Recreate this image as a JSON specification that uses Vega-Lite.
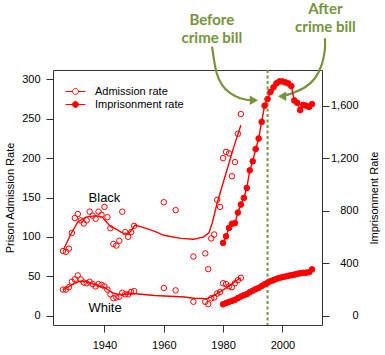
{
  "$schema": "https://vega.github.io/schema/vega-lite/v6.json",
  "width": 269,
  "height": 255,
  "autosize": {"type": "none"},
  "padding": {"left": 53, "top": 70, "right": 63, "bottom": 30},
  "background": "white",
  "config": {
    "view": {"stroke": "#333", "strokeWidth": 1},
    "font": "Liberation Sans",
    "axis": {
      "labelFont": "Liberation Sans", "labelFontSize": 11, "labelColor": "#000",
      "titleFont": "Liberation Sans", "titleFontSize": 11, "titleFontWeight": "normal", "titleColor": "#000",
      "tickColor": "#333", "tickSize": 7, "domain": false, "grid": false
    }
  },
  "datasets": {
    "adm": [
      {"year": 1926, "race": "Black", "series": "Admission rate", "rate": 82},
      {"year": 1927, "race": "Black", "series": "Admission rate", "rate": 81},
      {"year": 1928, "race": "Black", "series": "Admission rate", "rate": 85},
      {"year": 1929, "race": "Black", "series": "Admission rate", "rate": 105},
      {"year": 1930, "race": "Black", "series": "Admission rate", "rate": 124},
      {"year": 1931, "race": "Black", "series": "Admission rate", "rate": 129},
      {"year": 1932, "race": "Black", "series": "Admission rate", "rate": 121},
      {"year": 1933, "race": "Black", "series": "Admission rate", "rate": 117},
      {"year": 1934, "race": "Black", "series": "Admission rate", "rate": 121},
      {"year": 1935, "race": "Black", "series": "Admission rate", "rate": 132},
      {"year": 1936, "race": "Black", "series": "Admission rate", "rate": 127},
      {"year": 1937, "race": "Black", "series": "Admission rate", "rate": 123},
      {"year": 1938, "race": "Black", "series": "Admission rate", "rate": 132},
      {"year": 1939, "race": "Black", "series": "Admission rate", "rate": 128},
      {"year": 1940, "race": "Black", "series": "Admission rate", "rate": 138},
      {"year": 1941, "race": "Black", "series": "Admission rate", "rate": 125},
      {"year": 1942, "race": "Black", "series": "Admission rate", "rate": 111},
      {"year": 1943, "race": "Black", "series": "Admission rate", "rate": 91},
      {"year": 1944, "race": "Black", "series": "Admission rate", "rate": 89},
      {"year": 1945, "race": "Black", "series": "Admission rate", "rate": 95},
      {"year": 1946, "race": "Black", "series": "Admission rate", "rate": 132},
      {"year": 1947, "race": "Black", "series": "Admission rate", "rate": 106},
      {"year": 1948, "race": "Black", "series": "Admission rate", "rate": 100},
      {"year": 1949, "race": "Black", "series": "Admission rate", "rate": 106},
      {"year": 1950, "race": "Black", "series": "Admission rate", "rate": 114},
      {"year": 1960, "race": "Black", "series": "Admission rate", "rate": 144},
      {"year": 1964, "race": "Black", "series": "Admission rate", "rate": 134},
      {"year": 1970, "race": "Black", "series": "Admission rate", "rate": 75},
      {"year": 1974, "race": "Black", "series": "Admission rate", "rate": 79},
      {"year": 1975, "race": "Black", "series": "Admission rate", "rate": 59},
      {"year": 1976, "race": "Black", "series": "Admission rate", "rate": 98},
      {"year": 1977, "race": "Black", "series": "Admission rate", "rate": 103},
      {"year": 1978, "race": "Black", "series": "Admission rate", "rate": 147},
      {"year": 1979, "race": "Black", "series": "Admission rate", "rate": 138},
      {"year": 1980, "race": "Black", "series": "Admission rate", "rate": 200},
      {"year": 1981, "race": "Black", "series": "Admission rate", "rate": 208},
      {"year": 1982, "race": "Black", "series": "Admission rate", "rate": 206},
      {"year": 1983, "race": "Black", "series": "Admission rate", "rate": 177},
      {"year": 1984, "race": "Black", "series": "Admission rate", "rate": 195},
      {"year": 1985, "race": "Black", "series": "Admission rate", "rate": 231},
      {"year": 1986, "race": "Black", "series": "Admission rate", "rate": 256},
      {"year": 1926, "race": "White", "series": "Admission rate", "rate": 33},
      {"year": 1927, "race": "White", "series": "Admission rate", "rate": 33},
      {"year": 1928, "race": "White", "series": "Admission rate", "rate": 36},
      {"year": 1929, "race": "White", "series": "Admission rate", "rate": 43},
      {"year": 1930, "race": "White", "series": "Admission rate", "rate": 46},
      {"year": 1931, "race": "White", "series": "Admission rate", "rate": 51},
      {"year": 1932, "race": "White", "series": "Admission rate", "rate": 46},
      {"year": 1933, "race": "White", "series": "Admission rate", "rate": 42},
      {"year": 1934, "race": "White", "series": "Admission rate", "rate": 41},
      {"year": 1935, "race": "White", "series": "Admission rate", "rate": 43},
      {"year": 1936, "race": "White", "series": "Admission rate", "rate": 40},
      {"year": 1937, "race": "White", "series": "Admission rate", "rate": 37},
      {"year": 1938, "race": "White", "series": "Admission rate", "rate": 40},
      {"year": 1939, "race": "White", "series": "Admission rate", "rate": 39},
      {"year": 1940, "race": "White", "series": "Admission rate", "rate": 37},
      {"year": 1941, "race": "White", "series": "Admission rate", "rate": 33},
      {"year": 1942, "race": "White", "series": "Admission rate", "rate": 27},
      {"year": 1943, "race": "White", "series": "Admission rate", "rate": 22},
      {"year": 1944, "race": "White", "series": "Admission rate", "rate": 23},
      {"year": 1945, "race": "White", "series": "Admission rate", "rate": 24},
      {"year": 1946, "race": "White", "series": "Admission rate", "rate": 29},
      {"year": 1947, "race": "White", "series": "Admission rate", "rate": 27},
      {"year": 1948, "race": "White", "series": "Admission rate", "rate": 27},
      {"year": 1949, "race": "White", "series": "Admission rate", "rate": 30},
      {"year": 1950, "race": "White", "series": "Admission rate", "rate": 31},
      {"year": 1960, "race": "White", "series": "Admission rate", "rate": 35},
      {"year": 1964, "race": "White", "series": "Admission rate", "rate": 32},
      {"year": 1970, "race": "White", "series": "Admission rate", "rate": 17.5},
      {"year": 1974, "race": "White", "series": "Admission rate", "rate": 17.5},
      {"year": 1975, "race": "White", "series": "Admission rate", "rate": 14.5},
      {"year": 1976, "race": "White", "series": "Admission rate", "rate": 22},
      {"year": 1977, "race": "White", "series": "Admission rate", "rate": 23},
      {"year": 1978, "race": "White", "series": "Admission rate", "rate": 28},
      {"year": 1979, "race": "White", "series": "Admission rate", "rate": 30},
      {"year": 1980, "race": "White", "series": "Admission rate", "rate": 41},
      {"year": 1981, "race": "White", "series": "Admission rate", "rate": 40},
      {"year": 1982, "race": "White", "series": "Admission rate", "rate": 37},
      {"year": 1983, "race": "White", "series": "Admission rate", "rate": 36},
      {"year": 1984, "race": "White", "series": "Admission rate", "rate": 41},
      {"year": 1985, "race": "White", "series": "Admission rate", "rate": 45},
      {"year": 1986, "race": "White", "series": "Admission rate", "rate": 48}
    ],
    "admSmooth": [
      {"year": 1926.2, "race": "Black", "rate": 84},
      {"year": 1928.6, "race": "Black", "rate": 103},
      {"year": 1931.0, "race": "Black", "rate": 119},
      {"year": 1933.7, "race": "Black", "rate": 125},
      {"year": 1937.0, "race": "Black", "rate": 127},
      {"year": 1939.3, "race": "Black", "rate": 125},
      {"year": 1942.1, "race": "Black", "rate": 113},
      {"year": 1943.8, "race": "Black", "rate": 110},
      {"year": 1946.0, "race": "Black", "rate": 105},
      {"year": 1948.2, "race": "Black", "rate": 104},
      {"year": 1950.3, "race": "Black", "rate": 115},
      {"year": 1952.2, "race": "Black", "rate": 113},
      {"year": 1957.2, "race": "Black", "rate": 106.6},
      {"year": 1960.0, "race": "Black", "rate": 102},
      {"year": 1965.7, "race": "Black", "rate": 98},
      {"year": 1970.1, "race": "Black", "rate": 97},
      {"year": 1973.5, "race": "Black", "rate": 100},
      {"year": 1975.2, "race": "Black", "rate": 105},
      {"year": 1976.3, "race": "Black", "rate": 117},
      {"year": 1978.0, "race": "Black", "rate": 143},
      {"year": 1981.3, "race": "Black", "rate": 185},
      {"year": 1983.6, "race": "Black", "rate": 214},
      {"year": 1986.0, "race": "Black", "rate": 242},
      {"year": 1926.2, "race": "White", "rate": 33},
      {"year": 1929.2, "race": "White", "rate": 39.5},
      {"year": 1931.6, "race": "White", "rate": 43.5},
      {"year": 1934.0, "race": "White", "rate": 43},
      {"year": 1937.2, "race": "White", "rate": 39},
      {"year": 1940.4, "race": "White", "rate": 35},
      {"year": 1942.6, "race": "White", "rate": 29},
      {"year": 1945.0, "race": "White", "rate": 26.5},
      {"year": 1949.5, "race": "White", "rate": 28},
      {"year": 1957.0, "race": "White", "rate": 25.5},
      {"year": 1962.0, "race": "White", "rate": 24.5},
      {"year": 1967.0, "race": "White", "rate": 23.5},
      {"year": 1970.1, "race": "White", "rate": 22},
      {"year": 1974.6, "race": "White", "rate": 21.5},
      {"year": 1976.3, "race": "White", "rate": 24},
      {"year": 1980.2, "race": "White", "rate": 33},
      {"year": 1985.9, "race": "White", "rate": 48}
    ],
    "imp": [
      {"year": 1980, "race": "Black", "series": "Imprisonment rate", "rate": 554},
      {"year": 1981, "race": "Black", "series": "Imprisonment rate", "rate": 604},
      {"year": 1982, "race": "Black", "series": "Imprisonment rate", "rate": 668},
      {"year": 1983, "race": "Black", "series": "Imprisonment rate", "rate": 700},
      {"year": 1984, "race": "Black", "series": "Imprisonment rate", "rate": 705},
      {"year": 1985, "race": "Black", "series": "Imprisonment rate", "rate": 785},
      {"year": 1986, "race": "Black", "series": "Imprisonment rate", "rate": 846},
      {"year": 1987, "race": "Black", "series": "Imprisonment rate", "rate": 897},
      {"year": 1988, "race": "Black", "series": "Imprisonment rate", "rate": 973},
      {"year": 1989, "race": "Black", "series": "Imprisonment rate", "rate": 1107},
      {"year": 1990, "race": "Black", "series": "Imprisonment rate", "rate": 1176},
      {"year": 1991, "race": "Black", "series": "Imprisonment rate", "rate": 1270},
      {"year": 1992, "race": "Black", "series": "Imprisonment rate", "rate": 1349},
      {"year": 1993, "race": "Black", "series": "Imprisonment rate", "rate": 1476},
      {"year": 1994, "race": "Black", "series": "Imprisonment rate", "rate": 1600},
      {"year": 1995, "race": "Black", "series": "Imprisonment rate", "rate": 1650},
      {"year": 1996, "race": "Black", "series": "Imprisonment rate", "rate": 1705},
      {"year": 1997, "race": "Black", "series": "Imprisonment rate", "rate": 1740},
      {"year": 1998, "race": "Black", "series": "Imprisonment rate", "rate": 1770},
      {"year": 1999, "race": "Black", "series": "Imprisonment rate", "rate": 1785},
      {"year": 2000, "race": "Black", "series": "Imprisonment rate", "rate": 1785},
      {"year": 2001, "race": "Black", "series": "Imprisonment rate", "rate": 1778},
      {"year": 2002, "race": "Black", "series": "Imprisonment rate", "rate": 1770},
      {"year": 2003, "race": "Black", "series": "Imprisonment rate", "rate": 1750},
      {"year": 2004, "race": "Black", "series": "Imprisonment rate", "rate": 1640},
      {"year": 2005, "race": "Black", "series": "Imprisonment rate", "rate": 1622},
      {"year": 2006, "race": "Black", "series": "Imprisonment rate", "rate": 1566},
      {"year": 2007, "race": "Black", "series": "Imprisonment rate", "rate": 1606},
      {"year": 2008, "race": "Black", "series": "Imprisonment rate", "rate": 1600},
      {"year": 2009, "race": "Black", "series": "Imprisonment rate", "rate": 1590},
      {"year": 2010, "race": "Black", "series": "Imprisonment rate", "rate": 1612},
      {"year": 1980, "race": "White", "series": "Imprisonment rate", "rate": 86},
      {"year": 1981, "race": "White", "series": "Imprisonment rate", "rate": 95},
      {"year": 1982, "race": "White", "series": "Imprisonment rate", "rate": 104},
      {"year": 1983, "race": "White", "series": "Imprisonment rate", "rate": 112},
      {"year": 1984, "race": "White", "series": "Imprisonment rate", "rate": 120},
      {"year": 1985, "race": "White", "series": "Imprisonment rate", "rate": 133},
      {"year": 1986, "race": "White", "series": "Imprisonment rate", "rate": 145},
      {"year": 1987, "race": "White", "series": "Imprisonment rate", "rate": 155},
      {"year": 1988, "race": "White", "series": "Imprisonment rate", "rate": 163},
      {"year": 1989, "race": "White", "series": "Imprisonment rate", "rate": 178},
      {"year": 1990, "race": "White", "series": "Imprisonment rate", "rate": 190},
      {"year": 1991, "race": "White", "series": "Imprisonment rate", "rate": 201},
      {"year": 1992, "race": "White", "series": "Imprisonment rate", "rate": 211},
      {"year": 1993, "race": "White", "series": "Imprisonment rate", "rate": 225},
      {"year": 1994, "race": "White", "series": "Imprisonment rate", "rate": 238},
      {"year": 1995, "race": "White", "series": "Imprisonment rate", "rate": 250},
      {"year": 1996, "race": "White", "series": "Imprisonment rate", "rate": 262},
      {"year": 1997, "race": "White", "series": "Imprisonment rate", "rate": 270},
      {"year": 1998, "race": "White", "series": "Imprisonment rate", "rate": 280},
      {"year": 1999, "race": "White", "series": "Imprisonment rate", "rate": 287},
      {"year": 2000, "race": "White", "series": "Imprisonment rate", "rate": 293},
      {"year": 2001, "race": "White", "series": "Imprisonment rate", "rate": 298},
      {"year": 2002, "race": "White", "series": "Imprisonment rate", "rate": 303},
      {"year": 2003, "race": "White", "series": "Imprisonment rate", "rate": 308},
      {"year": 2004, "race": "White", "series": "Imprisonment rate", "rate": 312},
      {"year": 2005, "race": "White", "series": "Imprisonment rate", "rate": 318},
      {"year": 2006, "race": "White", "series": "Imprisonment rate", "rate": 322},
      {"year": 2007, "race": "White", "series": "Imprisonment rate", "rate": 326},
      {"year": 2008, "race": "White", "series": "Imprisonment rate", "rate": 327},
      {"year": 2009, "race": "White", "series": "Imprisonment rate", "rate": 330},
      {"year": 2010, "race": "White", "series": "Imprisonment rate", "rate": 352}
    ],
    "raceLabels": [
      {"year": 1940.0, "rate": 149.8, "label": "Black"},
      {"year": 1940.2, "rate": 9.0, "label": "White"}
    ],
    "notes": [
      {"year": 1976.2, "rate": 369.8, "label": "Before"},
      {"year": 1976.2, "rate": 346.9, "label": "crime bill"},
      {"year": 2014.5, "rate": 382.6, "label": "After"},
      {"year": 2014.5, "rate": 359.7, "label": "crime bill"}
    ],
    "arrows": [
      {"arrow": "before", "seq": 1, "year": 1976.27, "rate": 341.7},
      {"arrow": "before", "seq": 2, "year": 1977.71, "rate": 309.9},
      {"arrow": "before", "seq": 3, "year": 1979.63, "rate": 293.0},
      {"arrow": "before", "seq": 4, "year": 1982.42, "rate": 282.5},
      {"arrow": "before", "seq": 5, "year": 1985.78, "rate": 276.1},
      {"arrow": "before", "seq": 6, "year": 1989.82, "rate": 273.3},
      {"arrow": "after", "seq": 1, "year": 2014.35, "rate": 352.4},
      {"arrow": "after", "seq": 2, "year": 2014.3, "rate": 337.5},
      {"arrow": "after", "seq": 3, "year": 2013.24, "rate": 318.4},
      {"arrow": "after", "seq": 4, "year": 2010.99, "rate": 301.5},
      {"arrow": "after", "seq": 5, "year": 2007.63, "rate": 290.1},
      {"arrow": "after", "seq": 6, "year": 2003.7, "rate": 283.2},
      {"arrow": "after", "seq": 7, "year": 2000.91, "rate": 279.7}
    ],
    "heads": [
      {"dir": "right", "year": 1990.4, "rate": 273.6},
      {"dir": "left", "year": 1999.9, "rate": 278.6}
    ]
  },
  "layer": [
    {
      "data": {"values": [{"year": 1995}]},
      "mark": {"type": "rule", "color": "#77933C", "strokeWidth": 2, "strokeDash": [3, 2.5]},
      "encoding": {
        "x": {"field": "year", "type": "quantitative", "scale": {"domain": [1922.64, 2013.36], "nice": false, "zero": false},
              "axis": {"values": [1940, 1960, 1980, 2000], "format": "d", "title": null, "labelPadding": 7}}
      }
    },
    {
      "encoding": {
        "x": {"field": "year", "type": "quantitative", "scale": {"domain": [1922.64, 2013.36], "nice": false, "zero": false},
              "axis": {"values": [1940, 1960, 1980, 2000], "format": "d", "title": null, "labelPadding": 7}},
        "y": {"field": "rate", "type": "quantitative", "scale": {"domain": [-12, 312], "nice": false, "zero": false},
              "axis": {"orient": "left", "values": [0, 50, 100, 150, 200, 250, 300], "title": "Prison Admission Rate", "labelPadding": 6, "titlePadding": 6}}
      },
      "layer": [
        {
          "data": {"name": "admSmooth"},
          "mark": {"type": "line", "color": "red", "strokeWidth": 1.4},
          "encoding": {"detail": {"field": "race"}}
        },
        {
          "data": {"name": "adm"},
          "mark": {"type": "point", "shape": "circle", "filled": true, "size": 30, "stroke": "red", "strokeWidth": 1, "opacity": 1},
          "encoding": {
            "fill": {"field": "series", "type": "nominal",
              "scale": {"domain": ["Admission rate", "Imprisonment rate"], "range": ["transparent", "red"]},
              "legend": {"title": null, "orient": "none", "legendX": 17, "legendY": 16, "padding": 0, "rowPadding": 1,
                "symbolType": "M-2,0L-0.6,0M0.6,0L2,0M0.6,0A0.6,0.6,0,1,1,-0.6,0A0.6,0.6,0,1,1,0.6,0Z",
                "symbolSize": 100, "symbolStrokeColor": "red", "symbolStrokeWidth": 1, "symbolOpacity": 1,
                "labelFont": "Liberation Sans", "labelFontSize": 11, "labelColor": "#000", "labelOffset": 14}}
          }
        },
        {
          "data": {"name": "raceLabels"},
          "mark": {"type": "text", "font": "Liberation Sans", "fontSize": 13, "color": "#000", "align": "center", "baseline": "middle"},
          "encoding": {"text": {"field": "label"}}
        },
        {
          "data": {"name": "arrows"},
          "mark": {"type": "line", "color": "#77933C", "strokeWidth": 2.2, "interpolate": "cardinal", "clip": false},
          "encoding": {"detail": {"field": "arrow"}, "order": {"field": "seq"}}
        },
        {
          "data": {"name": "heads"},
          "mark": {"type": "point", "filled": true, "color": "#77933C", "size": 90, "opacity": 1, "clip": false},
          "encoding": {"shape": {"field": "dir", "type": "nominal", "scale": {"domain": ["right", "left"], "range": ["triangle-right", "triangle-left"]}, "legend": null}}
        },
        {
          "data": {"name": "notes"},
          "mark": {"type": "text", "font": "Lato", "fontSize": 15, "fontWeight": "bold", "color": "#77933C", "align": "center", "baseline": "alphabetic", "clip": false},
          "encoding": {"text": {"field": "label"}}
        }
      ]
    },
    {
      "data": {"name": "imp"},
      "encoding": {
        "x": {"field": "year", "type": "quantitative", "scale": {"domain": [1922.64, 2013.36], "nice": false, "zero": false},
              "axis": {"values": [1940, 1960, 1980, 2000], "format": "d", "title": null, "labelPadding": 7}},
        "y": {"field": "rate", "type": "quantitative", "scale": {"domain": [-72, 1872], "nice": false, "zero": false},
              "axis": {"orient": "right", "values": [0, 400, 800, 1200, 1600], "format": ",.0f", "title": "Imprisonment Rate", "labelAlign": "right", "labelPadding": 29, "titleAngle": 270, "titlePadding": 21}}
      },
      "layer": [
        {
          "mark": {"type": "line", "color": "red", "strokeWidth": 1.4},
          "encoding": {"detail": {"field": "race"}}
        },
        {
          "mark": {"type": "point", "shape": "circle", "filled": true, "size": 32, "stroke": "red", "strokeWidth": 1, "opacity": 1},
          "encoding": {
            "fill": {"field": "series", "type": "nominal",
              "scale": {"domain": ["Admission rate", "Imprisonment rate"], "range": ["transparent", "red"]}}
          }
        }
      ]
    }
  ],
  "resolve": {"scale": {"y": "independent"}}
}
